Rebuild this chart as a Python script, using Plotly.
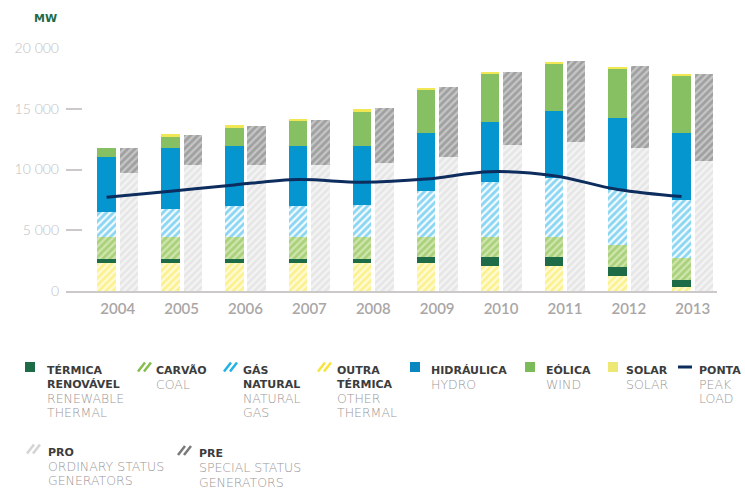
import plotly.graph_objects as go

# installed capacity (MW)
years = [2004, 2005, 2006, 2007, 2008, 2009, 2010, 2011, 2012, 2013]
outraTermica = [2270, 2270, 2270, 2270, 2270, 2270, 2070, 2070, 1230, 300]
termicaRenovavel = [350, 350, 350, 350, 350, 540, 740, 740, 760, 570]
carvao = [1820, 1820, 1820, 1820, 1820, 1630, 1630, 1630, 1770, 1810]
gasNatural = [2050, 2330, 2520, 2520, 2600, 3770, 4510, 4860, 4560, 4820]
hidraulica = [4510, 5040, 4990, 4990, 4910, 4830, 4990, 5510, 5890, 5490]
eolica = [780, 900, 1500, 2020, 2860, 3550, 3930, 3900, 4140, 4770]
solar = [0, 250, 200, 200, 150, 150, 120, 170, 120, 120]
pro = [9680, 10370, 10370, 10370, 10530, 11070, 12030, 12300, 11730, 10720]
pre = [2100, 2450, 3190, 3710, 4530, 5710, 5970, 6600, 6820, 7180]
pontaCarga = [7720, 8210, 8730, 9170, 8950, 9210, 9820, 9490, 8350, 7770]

yTicks = [0, 5000, 10000, 15000, 20000]

xLeft = [y - 0.175 for y in years]
xRight = [y + 0.175 for y in years]
barWidth = 0.29

FONT = "Lato"
LEGFONT = "DejaVu Sans"
DARK = "#3c3c3c"
GREY = "#9b9797"

fig = go.Figure()


def addBar(x, vals, name, color, hatch=None, bg=None):
    marker = dict(color=color, line=dict(width=0))
    if hatch:
        marker["pattern"] = dict(shape="/", fgcolor=hatch, bgcolor=bg,
                                 size=5, solidity=0.55)
    fig.add_trace(go.Bar(x=x, y=vals, name=name, width=barWidth,
                         marker=marker, showlegend=False))


addBar(xLeft, outraTermica, "Outra térmica", "#fff7b8", "#fae845", "#fffbd8")
addBar(xLeft, termicaRenovavel, "Térmica renovável", "#1e6b47")
addBar(xLeft, carvao, "Carvão", "#b8d98c", "#82bb48", "#d0e6ae")
addBar(xLeft, gasNatural, "Gás natural", "#9adcf5", "#1db0e6", "#f4fbfe")
addBar(xLeft, hidraulica, "Hidráulica", "#0596cf")
addBar(xLeft, eolica, "Eólica", "#86c062")
addBar(xLeft, solar, "Solar", "#f1e755")
addBar(xRight, pro, "PRO", "#ececec", "#d8d8d8", "#f4f4f4")
addBar(xRight, pre, "PRE", "#a8a8a8", "#7a7a7a", "#c6c6c6")

fig.add_trace(go.Scatter(x=xLeft, y=pontaCarga, mode="lines", name="Ponta",
                         line=dict(color="#0c2d5e", width=3, shape="spline"),
                         showlegend=False))

# plot area in pixels: x 66..717, y 48..291
L, R, T, B = 66, 717, 48, 291


def px(x):
    return (x - L) / (R - L)


def py(y):
    return (B - y) / (B - T)


annotations = [dict(x=px(32), y=py(19), xref="paper", yref="paper",
                    xanchor="left", yanchor="middle", showarrow=False,
                    text="<b>MW</b>",
                    font=dict(family=LEGFONT, size=11, color="#1e6b47"))]
shapes = []

# legend: (symbol kind, colour, symbol x, text x, first line y, bold lines, english lines)
legendItems = [
    ("rect", "#1e6b47", 25, 45, 370, ["TÉRMICA", "RENOVÁVEL"], ["RENEWABLE", "THERMAL"]),
    ("hatch", "#86bd4e", 138, 154, 370, ["CARVÃO"], ["COAL"]),
    ("hatch", "#22b2e6", 224, 241, 370, ["GÁS", "NATURAL"], ["NATURAL", "GAS"]),
    ("hatch", "#f5e43a", 318, 335, 370, ["OUTRA", "TÉRMICA"], ["OTHER", "THERMAL"]),
    ("rect", "#0a86c0", 410, 429, 370, ["HIDRÁULICA"], ["HYDRO"]),
    ("rect", "#7cbb5a", 525, 544, 370, ["EÓLICA"], ["WIND"]),
    ("rect", "#ece873", 608, 624, 370, ["SOLAR"], ["SOLAR"]),
    ("line", "#0c2d5e", 678, 697, 370, ["PONTA"], ["PEAK", "LOAD"]),
    ("hatch", "#d4d4d4", 27, 46, 452, ["PRO"], ["ORDINARY STATUS", "GENERATORS"]),
    ("hatch", "#7a7a7a", 178, 197, 453.5, ["PRE"], ["SPECIAL STATUS", "GENERATORS"]),
]
lineStep = 14.3

for kind, color, sx, tx, ty, boldLines, engLines in legendItems:
    rows = [("<b>%s</b>" % s, DARK, 11, None) for s in boldLines]
    rows += [(s, GREY, 12.5, 200) for s in engLines]
    for i, (txt, col, size, weight) in enumerate(rows):
        f = dict(family=LEGFONT, size=size, color=col)
        if weight:
            f["weight"] = weight
        annotations.append(dict(
            x=px(tx), y=py(ty + i * lineStep), xref="paper", yref="paper",
            xanchor="left", yanchor="middle", align="left", showarrow=False,
            text=txt, font=f))
    cy = ty - 3
    if kind == "rect":
        shapes.append(dict(type="rect", xref="paper", yref="paper",
                           x0=px(sx), x1=px(sx + 10), y0=py(cy + 5), y1=py(cy - 5),
                           fillcolor=color, line=dict(width=0)))
    elif kind == "line":
        shapes.append(dict(type="line", xref="paper", yref="paper",
                           x0=px(sx), x1=px(sx + 14), y0=py(cy), y1=py(cy),
                           line=dict(color=color, width=3)))
    else:
        for dx in (0, 6):
            shapes.append(dict(type="line", xref="paper", yref="paper",
                               x0=px(sx + dx), x1=px(sx + dx + 7),
                               y0=py(cy + 4.5), y1=py(cy - 4.5),
                               line=dict(color=color, width=2.5)))

fig.update_layout(
    barmode="stack",
    width=745, height=489,
    margin=dict(l=L, r=745 - R, t=T, b=489 - B),
    plot_bgcolor="white", paper_bgcolor="white",
    separators=", ",
    annotations=annotations,
    shapes=shapes,
    xaxis=dict(range=[2003.19, 2013.38], tickvals=years,
               ticktext=[str(y) for y in years], showgrid=False,
               zeroline=False, showline=True, linecolor="#cdc9c9",
               linewidth=2, ticks="", ticklabelstandoff=3,
               tickfont=dict(family=FONT, size=15, color="#aaa6a6", weight=600)),
    yaxis=dict(range=[0, 20000], tickvals=yTicks, tickformat=",d",
               showgrid=False, zeroline=False, showline=False,
               ticks="inside", ticklen=16, tickwidth=2, tickcolor="#cdc9c9",
               ticklabelstandoff=6,
               tickfont=dict(family=FONT, size=14, color="#c2bebe", weight=300)),
)

# drop the default page margin so the figure sits at the window's corner
fig.write_html("out.html", config={"displayModeBar": False},
               post_script="document.body.style.margin='0';")
